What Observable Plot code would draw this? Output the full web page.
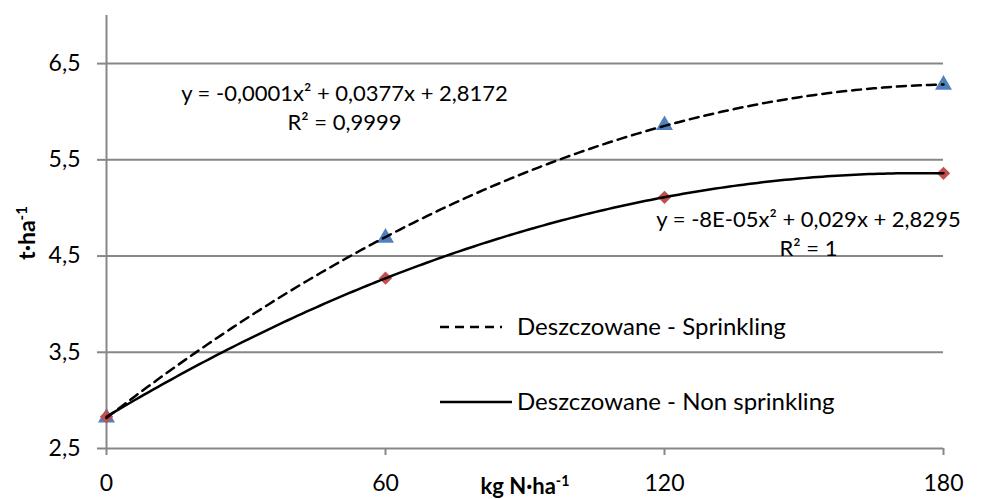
<!DOCTYPE html>
<html>
<head>
<meta charset="utf-8">
<script src="https://cdn.jsdelivr.net/npm/d3@7"></script>
<script src="https://cdn.jsdelivr.net/npm/@observablehq/plot@0.6"></script>
<style>
  html, body { margin: 0; padding: 0; background: #fff; }
  #chart { width: 981px; height: 499px; }
</style>
</head>
<body>
<div id="chart"></div>
<script>
// ---- data ----
const doses = [0, 60, 120, 180];                 // kg N·ha-1
const sprinkling = [2.82, 4.69, 5.86, 6.28];     // Deszczowane - Sprinkling
const nonSprinkling = [2.83, 4.27, 5.11, 5.36];  // Deszczowane - Non sprinkling
const xTicks = [0, 60, 120, 180];
const yTicks = [2.5, 3.5, 4.5, 5.5, 6.5];
const seriesNames = ["Deszczowane - Sprinkling", "Deszczowane - Non sprinkling"];
const eqSprinkling = ["y = -0,0001x² + 0,0377x + 2,8172", "R² = 0,9999"];
const eqNonSprinkling = ["y = -8E-05x² + 0,029x + 2,8295", "R² = 1"];
const xTitle = ["kg N·ha", "-1"];
const yTitle = ["t·ha", "-1"];

// least-squares quadratic trendline (as Excel's polynomial trendline)
function quadFit(xs, ys) {
  const n = xs.length;
  let s = [0,0,0,0,0], t = [0,0,0];
  for (let i = 0; i < n; i++) {
    const x = xs[i], y = ys[i];
    for (let k = 0; k <= 4; k++) s[k] += Math.pow(x, k);
    for (let k = 0; k <= 2; k++) t[k] += y * Math.pow(x, k);
  }
  const M = [[s[0],s[1],s[2],t[0]],[s[1],s[2],s[3],t[1]],[s[2],s[3],s[4],t[2]]];
  for (let i = 0; i < 3; i++) {
    let p = i;
    for (let r = i+1; r < 3; r++) if (Math.abs(M[r][i]) > Math.abs(M[p][i])) p = r;
    [M[i], M[p]] = [M[p], M[i]];
    for (let r = 0; r < 3; r++) if (r !== i) {
      const f = M[r][i] / M[i][i];
      for (let c = i; c < 4; c++) M[r][c] -= f * M[i][c];
    }
  }
  const c = M[0][3]/M[0][0], b = M[1][3]/M[1][1], a = M[2][3]/M[2][2];
  return x => a*x*x + b*x + c;
}

const fS = quadFit(doses, sprinkling);
const fN = quadFit(doses, nonSprinkling);
const xs = d3.range(0, 180.001, 1);
const trendS = xs.map(x => ({x, y: fS(x)}));
const trendN = xs.map(x => ({x, y: fN(x)}));
const ptsS = doses.map((x, i) => ({x, y: sprinkling[i]}));
const ptsN = doses.map((x, i) => ({x, y: nonSprinkling[i]}));

const FONT = "Lato, 'Open Sans', sans-serif";
const gray = "#878787";

const chart = Plot.plot({
  width: 981,
  height: 499,
  marginLeft: 106,
  marginRight: 38,
  marginTop: 15,
  marginBottom: 51,
  style: { fontFamily: FONT, fontSize: "23px", color: "#000", background: "#fff", overflow: "visible" },
  x: { domain: [0, 180], ticks: xTicks },
  y: { domain: [2.5, 7.0], ticks: yTicks },
  marks: [
    Plot.gridY(yTicks, { stroke: gray, strokeOpacity: 1, strokeWidth: 2 }),
    Plot.ruleX([0], { stroke: gray, strokeWidth: 2 }),
    Plot.axisY(yTicks, { tickSize: 9, text: null, stroke: gray, strokeWidth: 2, label: null }),
    Plot.text(yTicks, { y: d => d, frameAnchor: "left", dx: -26, textAnchor: "end", lineAnchor: "middle",
      fill: "#000", text: d => d.toFixed(1).replace(".", ",") }),
    Plot.axisX(xTicks, { tickSize: 7, text: null, stroke: gray, strokeWidth: 2, label: null }),
    Plot.text(xTicks, { x: d => d, frameAnchor: "bottom", dy: 35, textAnchor: "middle", lineAnchor: "middle",
      fill: "#000", text: d => String(d) }),
    Plot.dot(ptsS, { x: "x", y: "y", symbol: "triangle", r: 6.3, fill: "#4F81BD", stroke: "none" }),
    Plot.dot(ptsN, { x: "x", y: "y", symbol: "diamond2", r: 6.0, fill: "#C0504D", stroke: "none" }),
    Plot.line(trendS, { x: "x", y: "y", stroke: "#000", strokeWidth: 2.5, strokeDasharray: "9,6" }),
    Plot.line(trendN, { x: "x", y: "y", stroke: "#000", strokeWidth: 2.5 }),
    Plot.text([eqSprinkling.join("\n")], { frameAnchor: "top-left", dx: 238, dy: 91, textAnchor: "middle",
      lineAnchor: "middle", lineHeight: 1.32, fill: "#000", fontSize: 22 }),
    Plot.text([eqNonSprinkling.join("\n")], { frameAnchor: "top-left", dx: 702, dy: 217, textAnchor: "middle",
      lineAnchor: "middle", lineHeight: 1.32, fill: "#000", fontSize: 22 })
  ]
});

const svg = d3.select(chart);

// axis titles with real superscripts
function titleText(g, parts) {
  g.append("tspan").text(parts[0]);
  g.append("tspan").attr("font-size", "0.65em").attr("dy", "-0.55em").text(parts[1]);
}
const yt = svg.append("text")
  .attr("transform", "translate(27,233) rotate(-90)")
  .attr("text-anchor", "middle").attr("dy", "0.35em")
  .attr("font-family", FONT).attr("font-size", 23).attr("font-weight", "bold").attr("fill", "#000");
titleText(yt, yTitle);
const xt = svg.append("text")
  .attr("transform", "translate(525,486)")
  .attr("text-anchor", "middle").attr("dy", "0.35em")
  .attr("font-family", FONT).attr("font-size", 22).attr("font-weight", "bold").attr("fill", "#000");
titleText(xt, xTitle);

// legend (inside plot area, Excel-like)
const leg = svg.append("g").attr("font-family", FONT).attr("font-size", 24).attr("text-anchor", "start");
const items = [
  { name: seriesNames[0], dash: "9,6", x1: 440, x2: 502, y: 327 },
  { name: seriesNames[1], dash: null, x1: 440, x2: 512, y: 402 }
];
items.forEach(it => {
  leg.append("line").attr("x1", it.x1).attr("x2", it.x2).attr("y1", it.y).attr("y2", it.y)
    .attr("stroke", "#000").attr("stroke-width", 2.5).attr("stroke-dasharray", it.dash);
  leg.append("text").attr("x", 517).attr("y", it.y).attr("dy", "0.35em").attr("fill", "#000")
    .attr("text-anchor", "start").text(it.name);
});

document.getElementById("chart").appendChild(chart);
</script>
</body>
</html>
